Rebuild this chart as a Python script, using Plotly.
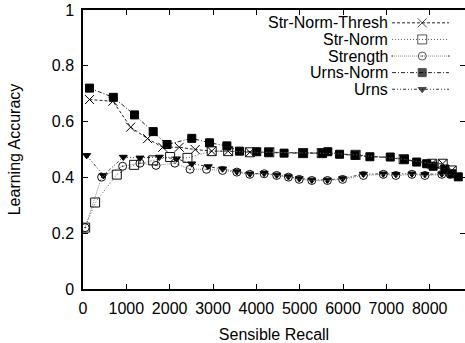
import plotly.graph_objects as go

# ---------------- data ----------------
series_names = ["Str-Norm-Thresh", "Str-Norm", "Strength", "Urns-Norm", "Urns"]

snt_x = [150, 690, 1100, 1490, 1840, 2220, 2590, 2970, 3350, 3850, 4300, 5080, 5510, 6290, 7400, 8050, 8300, 8510]
snt_y = [0.679, 0.673, 0.580, 0.539, 0.508, 0.508, 0.500, 0.494, 0.494, 0.490, 0.490, 0.487, 0.487, 0.481, 0.465, 0.449, 0.449, 0.425]

sn_x = [50, 280, 780, 1180, 1620, 2010, 2410, 2970, 3350, 3850, 4300, 5080, 5510, 6290, 7400, 8050, 8300, 8510]
sn_y = [0.220, 0.310, 0.410, 0.445, 0.461, 0.473, 0.470, 0.494, 0.494, 0.490, 0.490, 0.487, 0.487, 0.481, 0.465, 0.449, 0.449, 0.425]

st_x = [50, 430, 915, 1315, 1685, 2120, 2470, 2850, 3220, 3550, 3850, 4180, 4470, 4740, 4990, 5280, 5640, 5990, 6470, 6930, 7220, 7590, 7890, 8280, 8470]
st_y = [0.220, 0.401, 0.440, 0.451, 0.443, 0.451, 0.429, 0.429, 0.425, 0.419, 0.411, 0.413, 0.407, 0.401, 0.393, 0.389, 0.389, 0.393, 0.407, 0.411, 0.407, 0.411, 0.407, 0.411, 0.411]

un_x = [150, 700, 1190, 1620, 1940, 2510, 2920, 3320, 3610, 4010, 4280, 4640, 5080, 5530, 5650, 5920, 6280, 6620, 7090, 7420, 7700, 7930, 8080, 8350, 8510, 8660]
un_y = [0.720, 0.687, 0.624, 0.564, 0.518, 0.540, 0.524, 0.513, 0.494, 0.492, 0.490, 0.487, 0.487, 0.487, 0.492, 0.483, 0.479, 0.474, 0.473, 0.465, 0.455, 0.449, 0.440, 0.430, 0.413, 0.402]

u_x = [85, 470, 930, 1315, 1760, 2160, 2510, 2890, 3220, 3550, 3850, 4180, 4470, 4740, 4990, 5280, 5640, 5990, 6470, 6930, 7220, 7590, 7890, 8280, 8470]
u_y = [0.479, 0.407, 0.473, 0.470, 0.473, 0.467, 0.449, 0.439, 0.431, 0.421, 0.413, 0.415, 0.409, 0.403, 0.396, 0.391, 0.391, 0.396, 0.412, 0.413, 0.411, 0.413, 0.411, 0.413, 0.413]

x_ticks = [0, 1000, 2000, 3000, 4000, 5000, 6000, 7000, 8000]
y_ticks = [0, 0.2, 0.4, 0.6, 0.8, 1]
y_tick_labels = ["0", "0.2", "0.4", "0.6", "0.8", "1"]

# ---------------- styles ----------------
FONT = "Liberation Sans, Arial, Helvetica, sans-serif"
styles = [
    dict(symbol="x-thin-open", size=9, color="#000", lcolor="#222", dash="3px,2px"),
    dict(symbol="square-open", size=9, color="#111", lcolor="#555", dash="1px,2px"),
    dict(symbol="circle-open-dot", size=8, color="#111", lcolor="#888", dash="1px,1px"),
    dict(symbol="square", size=8, color="#000", lcolor="#222", dash="4px,2px,1px,2px"),
    dict(symbol="triangle-down", size=7, color="#000", lcolor="#333", dash="3px,2px,1px,2px,1px,2px"),
]
data = [(snt_x, snt_y), (sn_x, sn_y), (st_x, st_y), (un_x, un_y), (u_x, u_y)]

fig = go.Figure()
for idx in [3, 0, 4, 2, 1]:
    xs, ys = data[idx]
    s = styles[idx]
    fig.add_trace(go.Scatter(
        x=xs, y=ys, mode="lines+markers", name=series_names[idx],
        line=dict(color=s["lcolor"], width=1, dash=s["dash"]),
        marker=dict(symbol=s["symbol"], size=s["size"], color=s["color"],
                    line=dict(color=s["color"], width=1)),
        showlegend=False,
    ))

# ---------------- manual gnuplot-style legend (text left, sample right) ----------------
leg_text_x = 0.801
leg_line = [0.809, 0.888, 0.958]
leg_y0 = 0.954
leg_dy = 0.0595
for i, name in enumerate(series_names):
    s = styles[i]
    yy = leg_y0 - i * leg_dy
    fig.add_annotation(xref="paper", yref="paper", x=leg_text_x, y=yy, text=name,
                       showarrow=False, xanchor="right", yanchor="middle",
                       borderpad=0, font=dict(family=FONT, size=16, color="#000"))
    fig.add_trace(go.Scatter(
        x=leg_line, y=[yy] * 3, xaxis="x2", yaxis="y2", mode="lines+markers",
        line=dict(color=s["lcolor"], width=1, dash=s["dash"]),
        marker=dict(symbol=s["symbol"], size=[0, s["size"], 0], color=s["color"],
                    line=dict(color=s["color"], width=1)),
        showlegend=False, hoverinfo="skip", cliponaxis=False,
    ))

fig.update_layout(
    width=465, height=343,
    margin=dict(l=83, r=0, t=10, b=54, autoexpand=False),
    paper_bgcolor="white", plot_bgcolor="white",
    font=dict(family=FONT, size=16, color="#000"),
    showlegend=False,
    xaxis=dict(
        range=[0, 8815], tickvals=x_ticks, ticks="inside", ticklen=5,
        tickcolor="#000", showline=True, linecolor="#000", linewidth=1.5,
        mirror="ticks", showgrid=False, zeroline=False, automargin=False,
        ticklabelstandoff=4,
        title=dict(text="Sensible Recall", font=dict(size=16), standoff=14),
        tickfont=dict(size=16),
    ),
    yaxis=dict(
        range=[0, 1], tickvals=y_ticks, ticktext=y_tick_labels, ticks="inside",
        ticklen=5, tickcolor="#000", showline=True, linecolor="#000", linewidth=1.5,
        mirror="ticks", showgrid=False, zeroline=False, automargin=False,
        ticklabelstandoff=4,
        title=dict(text="Learning Accuracy", font=dict(size=16), standoff=27),
        tickfont=dict(size=16),
    ),
    xaxis2=dict(range=[0, 1], overlaying="x", visible=False, fixedrange=True),
    yaxis2=dict(range=[0, 1], overlaying="y", visible=False, fixedrange=True),
)

fig.write_html("out.html", config={"displayModeBar": False},
               post_script="document.body.style.margin='0';document.body.style.overflow='hidden';")
